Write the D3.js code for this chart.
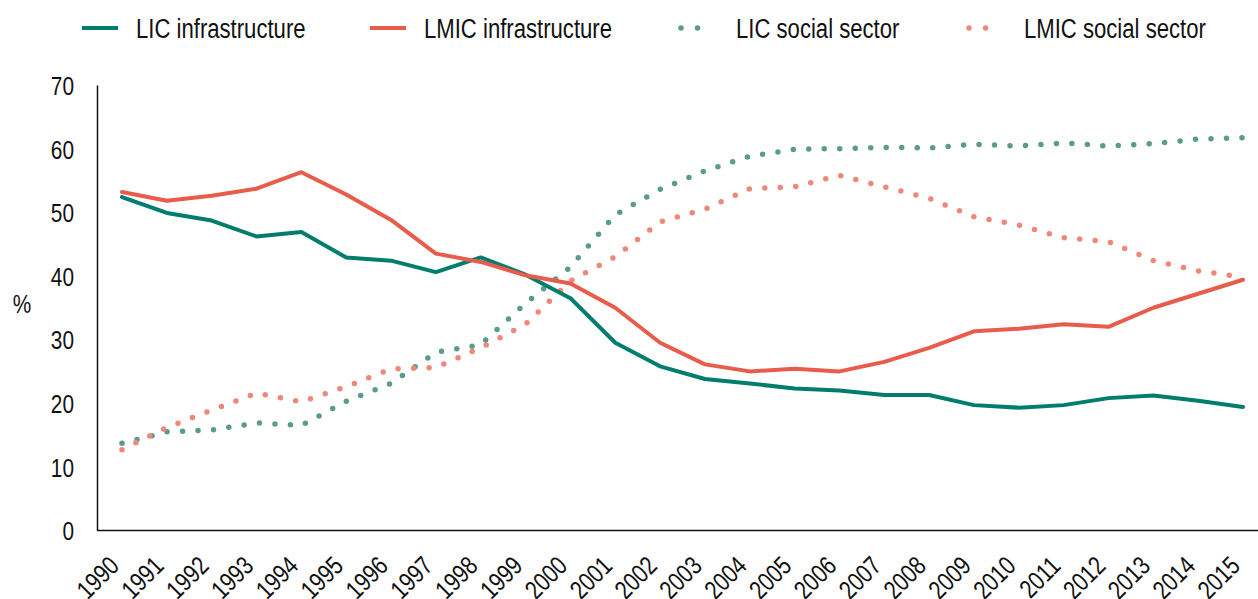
<!DOCTYPE html>
<html lang="en">
<head>
<meta charset="UTF-8">
<title>Infrastructure vs social sector</title>
<script src="https://cdnjs.cloudflare.com/ajax/libs/d3/7.8.5/d3.min.js"></script>
<style>
  body { margin: 0; background: #fff; }
  svg text { font-family: "Liberation Sans", Arial, sans-serif; fill: #111; }
</style>
</head>
<body>
<script>
// data (%)
var years = d3.range(1990, 2016);
var licInfra = [52.4, 49.9, 48.7, 46.2, 46.9, 42.9, 42.4, 40.6, 42.9, 40.2, 36.5, 29.5, 25.8, 23.8, 23.1, 22.3, 22.0, 21.3, 21.3, 19.7, 19.3, 19.7, 20.8, 21.2, 20.4, 19.4];
var lmicInfra = [53.2, 51.8, 52.6, 53.7, 56.3, 52.8, 48.8, 43.5, 42.2, 40.1, 38.8, 35.0, 29.5, 26.1, 25.0, 25.4, 25.0, 26.5, 28.7, 31.3, 31.7, 32.4, 32.0, 35.0, 37.2, 39.4];
var licSocial = [13.7, 15.5, 15.8, 16.9, 16.5, 20.3, 23.1, 28.0, 29.2, 35.7, 41.4, 49.6, 53.6, 56.5, 58.8, 59.9, 60.0, 60.2, 60.1, 60.7, 60.4, 60.9, 60.4, 60.8, 61.5, 61.7];
var lmicSocial = [12.7, 16.2, 18.9, 21.6, 20.2, 22.6, 25.4, 25.6, 28.7, 32.4, 39.2, 43.0, 48.5, 50.5, 53.7, 54.0, 55.8, 54.0, 52.2, 49.3, 48.0, 46.0, 45.4, 42.4, 40.8, 39.8];
var yTicks = [0, 10, 20, 30, 40, 50, 60, 70];

var series = [
  { name: "LIC infrastructure", values: licInfra, color: "#007d6c", dotted: false },
  { name: "LMIC infrastructure", values: lmicInfra, color: "#e85c4b", dotted: false },
  { name: "LIC social sector", values: licSocial, color: "#5a9c8c", dotted: true },
  { name: "LMIC social sector", values: lmicSocial, color: "#ef8878", dotted: true }
];

var width = 1258, height = 599;
var axisX = 97, axisY = 530.5;
var narrow = 0.8; // no condensed font installed, squeeze the glyphs instead

var svg = d3.select("body").append("svg")
  .attr("width", width)
  .attr("height", height);

var x = d3.scaleLinear().domain([1990, 2015]).range([122, 1243]);
var y = d3.scaleLinear().domain([0, 70]).range([axisY, 85]);

// y axis
var yAxis = svg.append("g")
  .attr("transform", "translate(" + axisX + ",0)")
  .call(d3.axisLeft(y).tickValues(yTicks).tickSize(0));
yAxis.select(".domain").attr("stroke", "#111").attr("stroke-width", 1.5);
yAxis.selectAll(".tick text")
  .attr("font-size", 26)
  .attr("x", 0)
  .attr("dy", "0.36em")
  .attr("transform", "translate(-23,0) scale(" + narrow + ",1)");

// x axis
var xAxis = svg.append("g")
  .attr("transform", "translate(0," + axisY + ")")
  .call(d3.axisBottom(x).tickValues(years).tickFormat(d3.format("d")).tickSize(0));
xAxis.select(".domain").remove();
xAxis.append("line")
  .attr("x1", axisX).attr("x2", width)
  .attr("stroke", "#111").attr("stroke-width", 1.5);
xAxis.selectAll(".tick text")
  .attr("font-size", 26)
  .attr("text-anchor", "end")
  .attr("dy", 0)
  .attr("y", 0)
  .attr("transform", "translate(-2,37) rotate(-45) scale(0.81,1)");

svg.append("text")
  .attr("transform", "translate(22,304) scale(" + narrow + ",1)")
  .attr("dy", "0.36em")
  .attr("text-anchor", "middle")
  .attr("font-size", 26)
  .text("%");

var line = d3.line()
  .x(function(d, i) { return x(years[i]); })
  .y(function(d) { return y(d); });

// dotted series first so solid lines sit on top
series.slice().sort(function(a, b) { return b.dotted - a.dotted; }).forEach(function(s) {
  svg.append("path")
    .datum(s.values)
    .attr("fill", "none")
    .attr("stroke", s.color)
    .attr("stroke-width", s.dotted ? 5.5 : 4)
    .attr("stroke-linecap", "round")
    .attr("stroke-linejoin", "round")
    .attr("stroke-dasharray", s.dotted ? "0,15.5" : null)
    .attr("d", line);
});

// legend
var legendX = [82, 370, 681, 969];
var legend = svg.selectAll(".legend")
  .data(series)
  .enter().append("g")
  .attr("class", "legend")
  .attr("transform", function(d, i) { return "translate(" + legendX[i] + ",28)"; });

legend.append("line")
  .attr("x1", 0).attr("x2", function(d) { return d.dotted ? 33 : 36; })
  .attr("stroke", function(d) { return d.color; })
  .attr("stroke-width", function(d) { return d.dotted ? 5.5 : 4; })
  .attr("stroke-linecap", function(d) { return d.dotted ? "round" : "butt"; })
  .attr("stroke-dasharray", function(d) { return d.dotted ? "0,16.5" : null; });

legend.append("text")
  .attr("transform", function(d) { return "translate(" + (d.dotted ? 55 : 54) + ",0) scale(0.79,1)"; })
  .attr("dy", "0.36em")
  .attr("font-size", 28)
  .text(function(d) { return d.name; });
</script>
</body>
</html>
